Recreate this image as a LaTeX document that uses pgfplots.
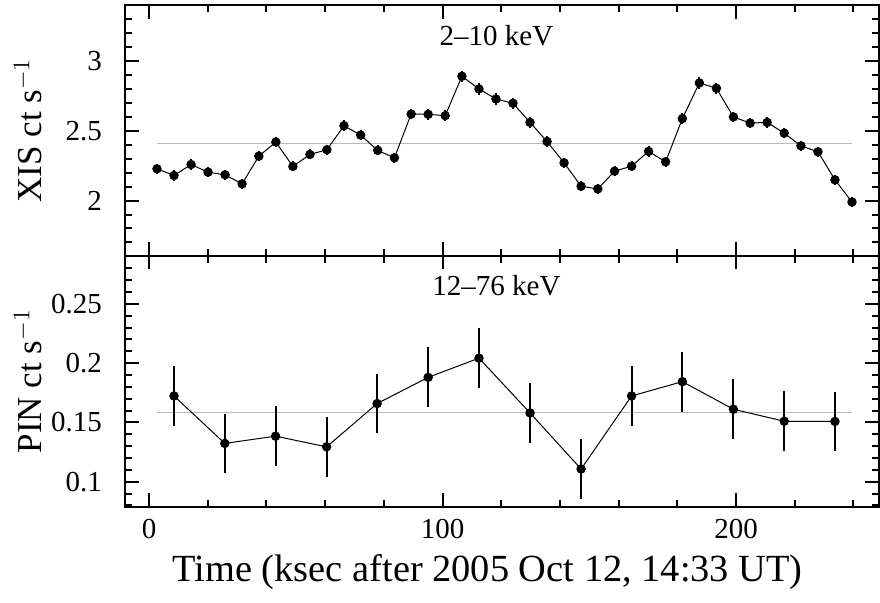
\documentclass[border=0pt]{standalone}
\usepackage{fontspec}
\setmainfont{Liberation Serif}
\usepackage{pgfplots}
\pgfplotsset{compat=1.18}

% XIS 2-10 keV light curve: time, rate, error
\pgfplotstableread{
x y e
2.7 2.228 0.036
8.5 2.180 0.036
14.3 2.259 0.036
20.1 2.204 0.036
25.9 2.185 0.036
31.7 2.120 0.036
37.4 2.319 0.036
43.2 2.420 0.038
49.0 2.245 0.036
54.8 2.331 0.036
60.6 2.365 0.036
66.4 2.537 0.038
72.1 2.470 0.038
77.9 2.360 0.036
83.6 2.307 0.036
89.3 2.621 0.038
95.1 2.619 0.038
100.9 2.609 0.038
106.6 2.892 0.04
112.4 2.801 0.04
118.2 2.729 0.04
124.0 2.698 0.038
129.8 2.561 0.038
135.6 2.424 0.038
141.4 2.271 0.036
147.2 2.103 0.036
152.9 2.084 0.036
158.6 2.211 0.036
164.4 2.247 0.036
170.2 2.353 0.038
176.0 2.278 0.036
181.7 2.588 0.038
187.5 2.844 0.04
193.3 2.806 0.04
199.1 2.600 0.038
204.8 2.556 0.038
210.6 2.561 0.038
216.4 2.484 0.038
222.1 2.393 0.038
227.9 2.350 0.038
233.7 2.149 0.036
239.5 1.990 0.036
}\xisdata

% PIN 12-76 keV light curve
\pgfplotstableread{
x y e
8.5 0.1723 0.0252
25.8 0.1323 0.0252
43.1 0.1384 0.0252
60.5 0.1294 0.0252
77.7 0.1659 0.0252
95.1 0.1880 0.0252
112.4 0.2042 0.0252
129.8 0.1580 0.0252
147.2 0.1107 0.0252
164.4 0.1723 0.0252
181.7 0.1844 0.0252
199.1 0.1611 0.0252
216.4 0.1510 0.0252
233.7 0.1508 0.0252
}\pindata

\pgfplotsset{
    lcstyle/.style={
        scale only axis,
        width=377pt, height=125.4pt,
        xmin=-8.2, xmax=248.7,
        xtick={0,100,200},
        minor xtick={20,40,60,80,120,140,160,180,220,240},
        tick align=inside,
        xtick pos=both, ytick pos=both,
        axis line style={line width=1pt},
        major tick length=6.8pt, minor tick length=3.5pt,
        every tick/.style={black, line width=1pt},
        ticklabel style={font=\fontsize{14.5}{16}\selectfont},
        yticklabel style={xshift=-8pt},
        xticklabel style={yshift=-3pt},
        /pgf/number format/assume math mode=true,
        every axis y label/.style={at={(axis description cs:-0.1286,0.5)}, rotate=90, anchor=center,
            font=\fontsize{17.5}{20}\selectfont},
    },
    lcplot/.style={
        black, line width=0.5pt, mark=*, mark size=2.1pt,
        error bars/.cd, y dir=both, y explicit, error mark=none,
        error bar style={line width=1pt},
    },
}

\begin{document}
\begin{tikzpicture}
    \begin{axis}[
            lcstyle,
            name=top,
            ymin=1.604, ymax=3.403,
            ytick={2,2.5,3},
            minor ytick={1.7,1.8,1.9,2.1,2.2,2.3,2.4,2.6,2.7,2.8,2.9,3.1,3.2,3.3},
            yticklabels={2,2.5,3},
            xticklabels=\empty,
            ylabel={XIS ct s$^{-1}$},
        ]
        \addplot[gray!55, line width=0.6pt] coordinates {(2.6,2.412) (239.6,2.412)};
        \addplot[lcplot] table[x=x, y=y, y error=e] {\xisdata};
        \node[font=\fontsize{14.5}{16}\selectfont] at (rel axis cs:0.4927,0.876) {2--10 keV};
    \end{axis}
    \begin{axis}[
            lcstyle,
            at={(top.south west)}, anchor=north west,
            ymin=0.079, ymax=0.2905,
            ytick={0.1,0.15,0.2,0.25},
            yticklabels={0.1,0.15,0.2,0.25},
            minor ytick={0.08,0.09,0.11,0.12,0.13,0.14,0.16,0.17,0.18,0.19,0.21,0.22,0.23,0.24,0.26,0.27,0.28,0.29},
            xticklabels={0,100,200},
            ylabel={PIN ct s$^{-1}$},
            xlabel={Time (ksec after 2005 Oct 12, 14:33 UT)},
            every axis x label/.style={at={(axis description cs:0.481,-0.262)}, anchor=center,
                font=\fontsize{19.2}{22}\selectfont},
        ]
        \addplot[gray!55, line width=0.6pt] coordinates {(2.6,0.1583) (239.6,0.1583)};
        \addplot[lcplot] table[x=x, y=y, y error=e] {\pindata};
        \node[font=\fontsize{14.5}{16}\selectfont] at (rel axis cs:0.4927,0.881) {12--76 keV};
    \end{axis}
    \pgfresetboundingbox
    \useasboundingbox (top.south west) ++(-62.5pt,-173.1pt) rectangle ([xshift=0.5pt,yshift=2.5pt]top.north east);
\end{tikzpicture}
\end{document}
